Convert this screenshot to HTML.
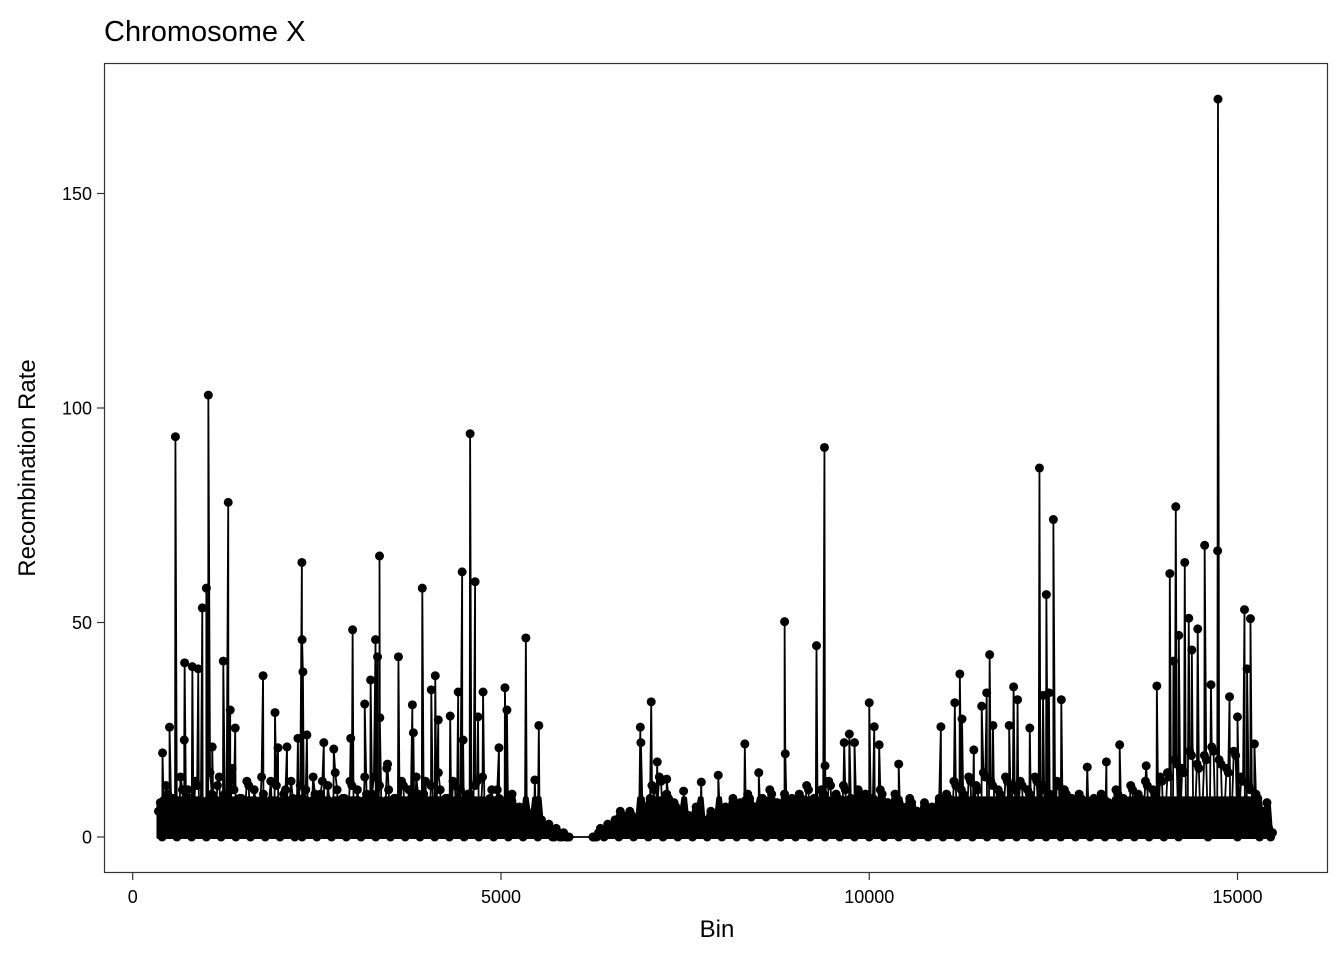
<!DOCTYPE html>
<html><head><meta charset="utf-8"><style>
html,body{margin:0;padding:0;background:#fff;}
svg{display:block;font-family:"Liberation Sans",Arial,sans-serif;}
</style></head><body>
<svg id="chart" width="1344" height="960">
<text x="104" y="41" font-size="29" fill="#000">Chromosome X</text>
<rect x="104.5" y="63.5" width="1223" height="809" fill="none" stroke="#333" stroke-width="1.2"/>
<g id="marks"></g>
<g id="axes"></g>
<text x="717" y="937" font-size="24" text-anchor="middle">Bin</text>
<text transform="translate(35,468) rotate(-90)" font-size="24" text-anchor="middle">Recombination Rate</text>
</svg>
<script>
const xTicks=[0,5000,10000,15000];
const yTicks=[0,50,100,150];
const peakBins=[405,500,580,700,705,810,890,945,1000,1027,1080,1230,1297,1324,1392,1770,1932,1973,2095,2243,2297,2300,2311,2365,2595,2730,2960,2986,3150,3230,3297,3324,3351,3355,3460,3608,3797,3811,3932,4054,4108,4149,4311,4419,4473,4486,4581,4649,4689,4757,4973,5054,5081,5338,5460,5514,5900,
6250,6620,6892,6900,7040,7122,7250,7480,7720,7950,8311,8500,8851,8860,9284,9392,9400,9660,9730,9800,10000,10068,10135,10400,10973,11162,11230,11260,11420,11527,11595,11635,11680,11900,11960,12014,12180,12311,12360,12405,12440,12500,12608,12960,13220,13400,13760,13905,14081,14130,14162,14203,14284,14338,14380,14460,14554,14640,14730,14735,14892,15000,15095,15176,15130,15230,15400];
const peakRates=[19.6,25.6,93.3,22.6,40.6,39.7,39.2,53.4,58,103,21,41,78,29.6,25.4,37.6,29,20.8,21,23,64,46,38.5,23.8,22,20.5,23,48.3,31,36.6,46,42,65.5,27.8,17,42,30.8,24.3,58,34.3,37.6,27.3,28.2,33.8,61.8,22.6,94,59.5,28,33.8,20.8,34.8,29.6,46.4,13.3,26,0,
0,6,25.6,22,31.5,17.5,13.5,10.7,12.8,14.4,21.7,15,50.2,19.4,44.6,90.8,16.6,22,24,22,31.3,25.7,21.5,17,25.7,31.3,38,27.5,20.3,30.5,33.6,42.5,26,26,35,32,25.4,86,33,56.5,33.6,74,32,16.3,17.5,21.5,16.6,35.2,61.4,41,77,47,64,51,43.6,48.5,68,35.5,66.7,172,32.7,28,53,50.9,39.2,21.7,8];
const baseStart=350, baseStep=50, base2Offset=25;
const baseRates=[6,0,12,1,9,0,14,2,11,0,13,1,8,0,15,2,12,0,10,1,16,0,9,2,13,0,11,1,14,0,8,2,12,0,10,1,13,0,9,0,
11,2,14,0,10,1,12,0,15,2,9,0,13,1,11,0,14,2,10,0,12,1,16,0,9,2,13,0,11,1,14,0,10,2,12,0,15,1,9,0,
13,2,11,0,10,1,12,0,14,2,9,0,11,1,8,0,10,2,7,0,6,1,5,0,4,1,3,0,2,0,1,0,
null,null,null,null,null,null,
0,0,2,0,3,1,4,0,5,1,6,0,4,1,5,0,
12,1,14,0,10,2,8,0,6,1,5,0,7,1,4,0,6,1,5,0,
7,1,9,0,8,2,10,0,7,1,9,0,11,1,8,0,10,2,9,0,
10,1,12,0,9,2,11,0,13,1,10,0,12,2,9,0,11,1,10,0,
9,1,11,0,8,2,10,0,7,1,9,0,6,1,8,0,7,2,9,0,
10,1,13,0,11,2,14,0,12,1,15,0,13,2,11,0,14,1,12,0,
13,1,11,0,14,2,12,0,10,1,13,0,11,2,9,0,10,1,8,0,
9,1,10,0,8,2,11,0,9,1,12,0,10,2,13,0,11,1,14,0,
15,2,18,0,16,3,20,1,17,2,19,0,21,3,18,1,16,2,20,0,
14,2,12,1,10,0,6,1,0];
const baseRates2=[8,3,10,5,7,2,11,4,9,3,12,6,7,2,10,5,14,3,8,4,11,2,9,6,12,3,7,5,10,2,13,4,8,3,11,6,9,2,12,5,
7,3,10,4,13,2,8,6,11,3,9,5,12,2,7,4,10,3,14,6,8,2,11,5,9,3,12,4,7,2,10,6,13,3,8,5,11,2,9,4,
12,3,7,6,10,2,13,5,8,3,11,4,9,2,7,5,6,3,5,2,4,1,3,2,2,1,1,0,1,0,0,0,
null,null,null,null,null,null,
0,1,1,2,2,1,3,2,4,3,5,2,3,4,6,9,
11,8,13,6,9,4,7,3,5,2,4,3,6,2,3,4,5,2,4,3,
6,4,8,3,7,5,9,2,6,4,8,3,10,5,7,2,9,4,8,3,
9,5,11,3,8,6,10,4,12,3,9,5,11,2,8,6,10,4,9,3,
8,4,10,3,7,5,9,2,6,4,8,3,5,2,7,4,6,3,8,5,
9,4,12,6,10,3,13,5,11,4,14,6,12,3,10,5,13,4,11,6,
12,4,10,6,13,3,11,5,9,4,12,6,10,3,8,5,9,4,7,3,
8,4,9,3,7,5,10,2,8,4,11,3,9,5,12,2,10,4,13,6,
14,7,17,5,15,8,19,6,16,7,18,5,20,8,17,6,15,7,19,5,
13,6,11,4,9,3,5,2,1];

const NS='http://www.w3.org/2000/svg';
function xs(v){return 132.7+v*(1237.5-132.7)/15000;}
function ys(v){return 837-v*(837-408)/100;}
const pts=[];
for(let i=0;i<baseRates.length;i++){if(baseRates[i]!==null)pts.push([baseStart+baseStep*i,baseRates[i]]);}
for(let i=0;i<baseRates2.length;i++){if(baseRates2[i]!==null)pts.push([baseStart+base2Offset+baseStep*i,baseRates2[i]]);}
for(let i=0;i<peakBins.length;i++)pts.push([peakBins[i],peakRates[i]]);
pts.sort((a,b)=>a[0]-b[0]);
const marks=document.getElementById('marks');
// dense band area (from data, split where bins jump)
let segs=[[]];
pts.forEach((p,i)=>{
  if(i>0 && p[0]-pts[i-1][0]>200) segs.push([]);
  const prev=i>0?pts[i-1][1]:0, next=i<pts.length-1?pts[i+1][1]:0;
  segs[segs.length-1].push([p[0],Math.min(Math.max(p[1],prev,next),9)]);
});
segs.forEach(s=>{
  if(s.length<2)return;
  let d='M'+xs(s[0][0]).toFixed(2)+','+ys(0);
  s.forEach(q=>{d+=' L'+xs(q[0]).toFixed(2)+','+ys(q[1]).toFixed(2);});
  d+=' L'+xs(s[s.length-1][0]).toFixed(2)+','+ys(0)+' Z';
  const a=document.createElementNS(NS,'path');
  a.setAttribute('d',d);a.setAttribute('fill','#000');a.setAttribute('stroke','#000');a.setAttribute('stroke-width','4');a.setAttribute('stroke-linejoin','round');
  
  
  marks.appendChild(a);
});
const line=document.createElementNS(NS,'polyline');
line.setAttribute('points',pts.map(p=>xs(p[0]).toFixed(2)+','+ys(p[1]).toFixed(2)).join(' '));
line.setAttribute('fill','none');line.setAttribute('stroke','#000');line.setAttribute('stroke-width','1.8');


marks.appendChild(line);
pts.forEach(p=>{
  const c=document.createElementNS(NS,'circle');
  c.setAttribute('cx',xs(p[0]));c.setAttribute('cy',ys(p[1]));c.setAttribute('r','4.5');c.setAttribute('fill','#000');
  
  
  marks.appendChild(c);
});
const axes=document.getElementById('axes');
xTicks.forEach(t=>{
  const l=document.createElementNS(NS,'line');
  l.setAttribute('x1',xs(t));l.setAttribute('x2',xs(t));l.setAttribute('y1',873);l.setAttribute('y2',880);l.setAttribute('stroke','#333');l.setAttribute('stroke-width','1.2');
  
  
  axes.appendChild(l);
  const tx=document.createElementNS(NS,'text');
  tx.setAttribute('x',xs(t));tx.setAttribute('y',903);tx.setAttribute('font-size','18');tx.setAttribute('text-anchor','middle');
  tx.textContent=t;
  
  
  axes.appendChild(tx);
});
yTicks.forEach(t=>{
  const l=document.createElementNS(NS,'line');
  l.setAttribute('x1',97);l.setAttribute('x2',104);l.setAttribute('y1',ys(t));l.setAttribute('y2',ys(t));l.setAttribute('stroke','#333');l.setAttribute('stroke-width','1.2');
  
  
  axes.appendChild(l);
  const tx=document.createElementNS(NS,'text');
  tx.setAttribute('x',92);tx.setAttribute('y',ys(t)+6.5);tx.setAttribute('font-size','18');tx.setAttribute('text-anchor','end');
  tx.textContent=t;
  
  
  axes.appendChild(tx);
});
</script>
</body></html>
